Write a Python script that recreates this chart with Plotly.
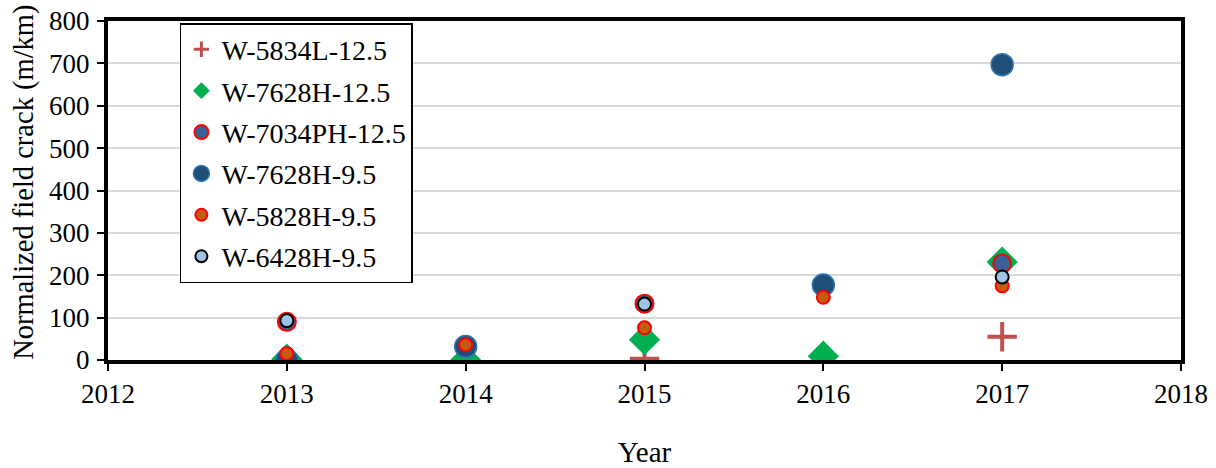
import plotly.graph_objects as go

# Survey years and normalized field crack (m/km) per mix
years = [2013, 2014, 2015, 2016, 2017]

w5834l_125 = [None, None, 3, None, 55]
w7628h_125 = [2, 0, 48, 9, 231]
w7034ph_125 = [90, None, 133, None, 228]
w7628h_95 = [0, 32, None, 177, 697]
w5828h_95 = [15, 36, 76, 148, 175]
w6428h_95 = [93, None, 132, None, 196]

x_ticks = [2012, 2013, 2014, 2015, 2016, 2017, 2018]
y_ticks = [0, 100, 200, 300, 400, 500, 600, 700, 800]

FONT = "Liberation Serif"

# (name, values, plot marker, legend swatch marker)
series = [
    ("W-5834L-12.5", w5834l_125,
     dict(symbol="cross-thin", size=21, color="#C0504D",
          line=dict(color="#C0504D", width=4)),
     dict(symbol="cross-thin", size=11, color="#C0504D",
          line=dict(color="#C0504D", width=3))),
    ("W-7628H-12.5", w7628h_125,
     dict(symbol="diamond", size=24, color="#00B050",
          line=dict(color="#00B050", width=0)),
     dict(symbol="diamond", size=13, color="#00B050",
          line=dict(color="#00B050", width=0))),
    ("W-7034PH-12.5", w7034ph_125,
     dict(symbol="circle", size=18, color="#3A6193",
          line=dict(color="#FF0000", width=2)),
     dict(symbol="circle", size=14, color="#3A6193",
          line=dict(color="#FF0000", width=2))),
    ("W-7628H-9.5", w7628h_95,
     dict(symbol="circle", size=22, color="#1F4E79",
          line=dict(color="#2E75B6", width=1.5)),
     dict(symbol="circle", size=16, color="#1F4E79",
          line=dict(color="#2E75B6", width=1.5))),
    ("W-5828H-9.5", w5828h_95,
     dict(symbol="circle", size=13, color="#C55A11",
          line=dict(color="#FF0000", width=2)),
     dict(symbol="circle", size=12, color="#C55A11",
          line=dict(color="#FF0000", width=2))),
    ("W-6428H-9.5", w6428h_95,
     dict(symbol="circle", size=13, color="#9DC3E6",
          line=dict(color="#000000", width=2)),
     dict(symbol="circle", size=12, color="#9DC3E6",
          line=dict(color="#000000", width=2))),
]

fig = go.Figure()
for i, (name, vals, marker, swatch) in enumerate(series):
    fig.add_trace(go.Scatter(
        x=years, y=vals, name=name, mode="markers",
        marker=marker, showlegend=False, legendgroup=f"g{i}",
    ))
    # legend-only entry with a smaller swatch
    fig.add_trace(go.Scatter(
        x=[None], y=[None], name=name, mode="markers",
        marker=swatch, showlegend=True, legendgroup=f"g{i}",
    ))

fig.update_layout(
    width=1216, height=468,
    margin=dict(l=107.5, r=35, t=21, b=107.5),
    paper_bgcolor="white", plot_bgcolor="white",
    font=dict(family=FONT, size=27, color="black"),
    legend=dict(
        x=0.067, y=0.994, xanchor="left", yanchor="top",
        bgcolor="white", bordercolor="black", borderwidth=1.5,
        font=dict(family=FONT, size=28, color="black"),
        tracegroupgap=2, traceorder="grouped",
    ),
    xaxis=dict(
        range=[2012, 2018], tickvals=x_ticks,
        ticktext=[str(v) for v in x_ticks],
        showgrid=False, zeroline=False, automargin=False,
        showline=True, linecolor="black", linewidth=4, mirror=True,
        ticks="outside", ticklen=7, tickwidth=1.5, tickcolor="black",
        title=dict(text="Year", standoff=44, font=dict(family=FONT, size=29)),
    ),
    yaxis=dict(
        range=[0, 800], tickvals=y_ticks,
        showgrid=True, gridcolor="#D9D9D9", gridwidth=1.5,
        zeroline=False, automargin=False,
        showline=True, linecolor="black", linewidth=4, mirror=True,
        ticks="outside", ticklen=7, tickwidth=1.5, tickcolor="black",
        ticklabelstandoff=2,
    ),
    annotations=[dict(
        text="Normalized field crack (m/km)", textangle=-90,
        xref="paper", yref="paper", x=-0.0785, y=0.525,
        xanchor="center", yanchor="middle", showarrow=False,
        font=dict(family=FONT, size=28.5, color="black"),
    )],
)

fig.write_html("out.html")
